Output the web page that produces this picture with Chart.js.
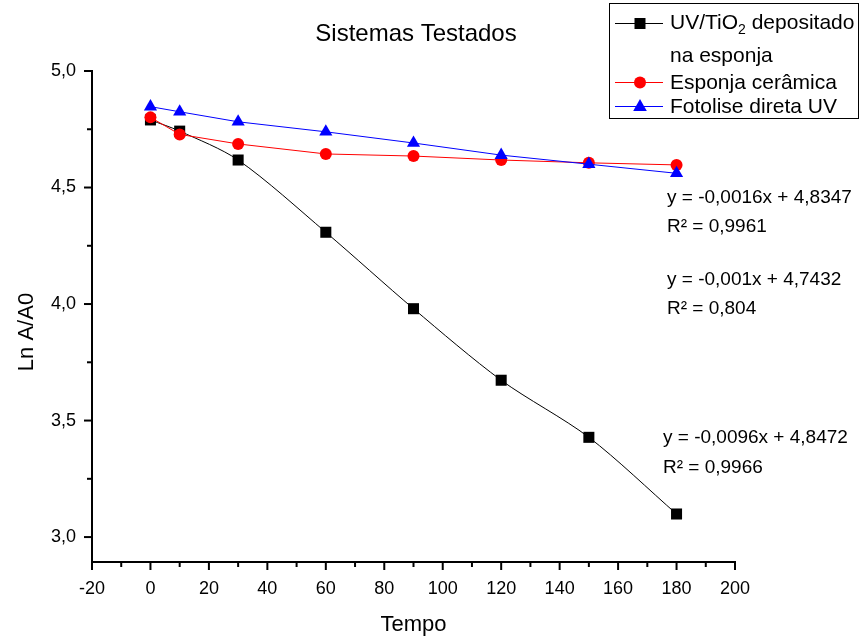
<!DOCTYPE html>
<html>
<head>
<meta charset="utf-8">
<script src="https://cdn.jsdelivr.net/npm/chart.js@4.4.1/dist/chart.umd.min.js"></script>
<style>
html,body{margin:0;padding:0;background:#fff;}
canvas{display:block;}
</style>
</head>
<body>
<canvas id="c" width="862" height="639"></canvas>
<script>
// ---- data ----
const tempo = [0, 10, 30, 60, 90, 120, 150, 180];
const uvTiO2 = [4.790, 4.742, 4.618, 4.308, 3.980, 3.673, 3.428, 3.099];
const esponjaCeramica = [4.801, 4.728, 4.687, 4.644, 4.635, 4.618, 4.606, 4.597];
const fotoliseDireta = [4.847, 4.825, 4.782, 4.739, 4.691, 4.639, 4.600, 4.561];
const xTicks = [-20, 0, 20, 40, 60, 80, 100, 120, 140, 160, 180, 200];
const yTicks = [3.0, 3.5, 4.0, 4.5, 5.0];
const seriesNames = ['UV/TiO', 'Esponja cerâmica', 'Fotolise direta UV'];
const fitLabels = [
  'y = -0,0016x + 4,8347', 'R² = 0,9961',
  'y = -0,001x + 4,7432', 'R² = 0,804',
  'y = -0,0096x + 4,8472', 'R² = 0,9966'
];
const titleText = 'Sistemas Testados';
const xTitle = 'Tempo';
const yTitle = 'Ln A/A0';

const FONT = '"Liberation Sans", Arial, sans-serif';
const pts = arr => tempo.map((t, i) => ({x: t, y: arr[i]}));

const extras = {
  id: 'extras',
  afterDraw(chart) {
    const ctx = chart.ctx;
    const xs = chart.scales.x, ys = chart.scales.y;
    ctx.save();
    ctx.strokeStyle = '#000';
    ctx.fillStyle = '#000';
    ctx.lineWidth = 2;
    // ticks on y axis
    const yl = ys.right;
    for (let v = 3.0; v <= 5.0001; v += 0.25) {
      const py = ys.getPixelForValue(v);
      const major = Math.abs(v * 2 - Math.round(v * 2)) < 1e-6;
      ctx.beginPath();
      ctx.moveTo(yl, py);
      ctx.lineTo(yl - (major ? 8 : 5), py);
      ctx.stroke();
    }
    // ticks on x axis
    const xb = xs.top;
    for (let v = -20; v <= 200; v += 10) {
      const px = xs.getPixelForValue(v);
      const major = v % 20 === 0;
      ctx.beginPath();
      ctx.moveTo(px, xb);
      ctx.lineTo(px, xb + (major ? 8 : 5));
      ctx.stroke();
    }
    // title
    ctx.font = '24px ' + FONT;
    ctx.textAlign = 'center';
    ctx.textBaseline = 'alphabetic';
    ctx.fillText(titleText, 416, 41);
    // axis titles
    ctx.font = '22px ' + FONT;
    ctx.fillText(xTitle, (xs.left + xs.right) / 2, 631);
    ctx.save();
    ctx.translate(33, 332);
    ctx.rotate(-Math.PI / 2);
    ctx.fillText(yTitle, 0, 0);
    ctx.restore();
    // fit annotations
    ctx.font = '19px ' + FONT;
    ctx.textAlign = 'left';
    const ann = [[667, 203], [667, 232], [667, 285], [667, 314], [663, 443], [663, 473]];
    fitLabels.forEach((t, i) => ctx.fillText(t, ann[i][0], ann[i][1]));
    // legend
    ctx.lineWidth = 1;
    ctx.strokeRect(609.5, 3.5, 249, 115);
    const rows = [
      {y: 23, color: '#000', style: 'rect'},
      {y: 82, color: '#ff0000', style: 'circle'},
      {y: 106, color: '#0000ff', style: 'triangle'}
    ];
    rows.forEach(r => {
      ctx.strokeStyle = r.color;
      ctx.lineWidth = 1;
      ctx.beginPath();
      ctx.moveTo(615, r.y + 0.5);
      ctx.lineTo(663, r.y + 0.5);
      ctx.stroke();
      ctx.fillStyle = r.color;
      ctx.beginPath();
      if (r.style === 'rect') {
        ctx.rect(640 - 5.5, r.y - 5, 11, 11);
      } else if (r.style === 'circle') {
        ctx.arc(640, r.y + 0.5, 6, 0, Math.PI * 2);
      } else {
        ctx.moveTo(640, r.y - 7);
        ctx.lineTo(646.8, r.y + 5);
        ctx.lineTo(633.2, r.y + 5);
        ctx.closePath();
      }
      ctx.fill();
    });
    ctx.fillStyle = '#000';
    ctx.font = '21px ' + FONT;
    ctx.fillText(seriesNames[0], 670, 29);
    let w = ctx.measureText(seriesNames[0]).width;
    ctx.font = '14px ' + FONT;
    ctx.fillText('2', 670 + w, 34);
    const w2 = ctx.measureText('2').width;
    ctx.font = '21px ' + FONT;
    ctx.fillText(' depositado', 670 + w + w2, 29);
    ctx.fillText('na esponja', 670, 62);
    ctx.fillText(seriesNames[1], 670, 89);
    ctx.fillText(seriesNames[2], 670, 113);
    ctx.restore();
  }
};

new Chart(document.getElementById('c'), {
  type: 'line',
  data: {
    datasets: [
      {
        label: 'UV/TiO2 depositado na esponja',
        data: pts(uvTiO2),
        borderColor: '#000', backgroundColor: '#000',
        borderWidth: 1, pointStyle: 'rect', pointRadius: 7.8,
        pointBorderWidth: 0, tension: 0.3, order: 3
      },
      {
        label: seriesNames[1],
        data: pts(esponjaCeramica),
        borderColor: '#ff0000', backgroundColor: '#ff0000',
        borderWidth: 1, pointStyle: 'circle', pointRadius: 6,
        pointBorderWidth: 0, tension: 0, order: 2
      },
      {
        label: seriesNames[2],
        data: pts(fotoliseDireta),
        borderColor: '#0000ff', backgroundColor: '#0000ff',
        borderWidth: 1, pointStyle: 'triangle', pointRadius: 7.6,
        pointBorderWidth: 0, tension: 0, order: 1
      }
    ]
  },
  options: {
    responsive: false,
    animation: false,
    devicePixelRatio: 1,
    clip: false,
    layout: {padding: {top: 71, right: 127, left: 0, bottom: 0}},
    plugins: {legend: {display: false}, title: {display: false}, tooltip: {enabled: false}},
    scales: {
      x: {
        type: 'linear', min: -20, max: 200,
        afterBuildTicks: s => { s.ticks = xTicks.map(v => ({value: v})); },
        afterFit: s => { s.height = 77; },
        grid: {display: false, drawTicks: false},
        border: {display: true, color: '#000', width: 2},
        ticks: {color: '#000', font: {family: FONT, size: 18}, padding: 16, autoSkip: false, maxRotation: 0,
          callback: v => String(v)}
      },
      y: {
        type: 'linear', min: 2.893, max: 5.0,
        afterBuildTicks: s => { s.ticks = yTicks.map(v => ({value: v})); },
        afterFit: s => { s.width = 92; },
        grid: {display: false, drawTicks: false},
        border: {display: true, color: '#000', width: 2},
        ticks: {color: '#000', font: {family: FONT, size: 18}, padding: 16, autoSkip: false,
          callback: v => Number(v).toFixed(1).replace('.', ',')}
      }
    }
  },
  plugins: [extras]
});
</script>
</body>
</html>
